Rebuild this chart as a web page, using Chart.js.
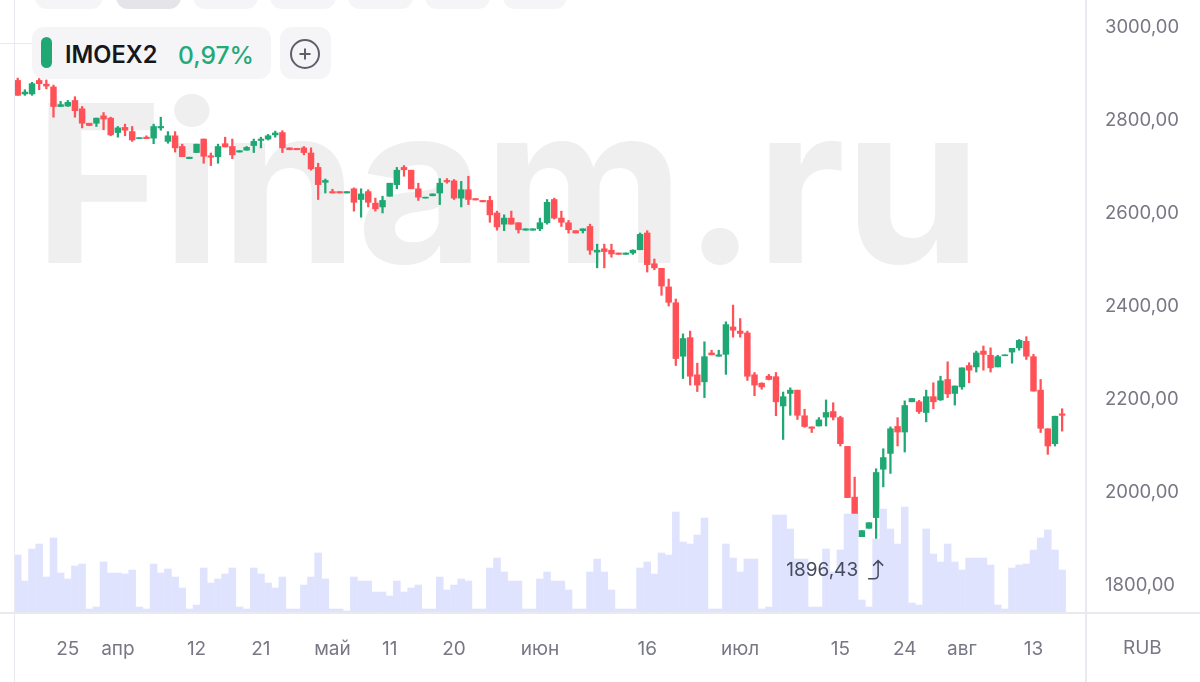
<!DOCTYPE html>
<html>
<head>
<meta charset="utf-8">
<title>IMOEX2</title>
<script src="https://cdn.jsdelivr.net/npm/chart.js@4"></script>
<style>
  html, body { margin: 0; padding: 0; background: #fff; font-family: Inter, sans-serif; }
  #wrap { position: relative; width: 1200px; height: 682px; overflow: hidden; }
  #chart { position: absolute; left: 0; top: 0; z-index: 1; }
  .line { position: absolute; background: #e9e9f0; }
  .tab { position: absolute; top: -20px; height: 29px; border-radius: 12px; background: #f5f5f7; }
  .box { position: absolute; top: 27px; height: 52px; border-radius: 12px; background: #f5f5f7; z-index: 2; }
  .txt { position: absolute; white-space: nowrap; z-index: 3; }
</style>
</head>
<body>
<div id="wrap">
  <div class="line" style="left:14px;top:0;width:1px;height:682px"></div>
  <div class="line" style="left:1085px;top:0;width:2px;height:682px"></div>
  <div class="line" style="left:0;top:612px;width:1200px;height:2px"></div>
  <div class="line" style="left:0;top:43px;width:33px;height:1px"></div>

  <div class="tab" style="left:35px;width:68px"></div>
  <div class="tab" style="left:116px;width:65px;background:#e4e4e9"></div>
  <div class="tab" style="left:193px;width:65px"></div>
  <div class="tab" style="left:270px;width:66px"></div>
  <div class="tab" style="left:348px;width:65px"></div>
  <div class="tab" style="left:425px;width:65px"></div>
  <div class="tab" style="left:503px;width:64px"></div>

  <div class="box" style="left:32px;width:239px"></div>
  <div class="txt" style="left:41px;top:37px;width:11px;height:31px;border-radius:6px;background:#1fa874"></div>
  <div class="txt" style="left:65px;top:41px;font-size:23.6px;line-height:28px;font-weight:600;color:#16161d">IMOEX2</div>
  <div class="txt" style="left:178px;top:41px;font-size:24.6px;line-height:28px;font-weight:500;color:#23a97a">0,97%</div>
  <div class="box" style="left:280px;width:51px"></div>
  <svg class="txt" style="left:289px;top:38px" width="32" height="32">
    <circle cx="16" cy="16" r="14" fill="none" stroke="#5f5f6c" stroke-width="2"/>
    <path d="M16 10.5V21.5M10.5 16H21.5" stroke="#5f5f6c" stroke-width="2" fill="none"/>
  </svg>
  <div class="txt" style="left:1123px;top:637px;font-size:19px;line-height:22px;color:#777785">RUB</div>
  <canvas id="chart" width="1200" height="682"></canvas>
</div>

<script>
// Daily candles, 147 sessions
const opens = [
  2886,2857,2857,2886,2878,2872,2830,2831,2843,2825,
  2794,2794,2810,2805,2774,2785,2776,2761,2764,2762,
  2784,2755,2767,2744,2718,2731,2760,2724,2722,2750,
  2744,2732,2736,2746,2757,2760,2769,2774,2741,2740,
  2741,2730,2699,2667,2647,2647,2644,2653,2630,2647,
  2622,2614,2637,2662,2699,2693,2653,2633,2638,2644,
  2671,2670,2633,2651,2632,2628,2628,2601,2577,2590,
  2580,2564,2564,2567,2580,2630,2590,2580,2563,2563,
  2572,2517,2524,2521,2515,2512,2515,2522,2558,2492,
  2482,2442,2408,2293,2333,2253,2238,2300,2293,2297,
  2356,2347,2343,2253,2235,2250,2249,2186,2213,2220,
  2165,2141,2143,2162,2174,2161,2099,1990,1905,1923,
  1946,2050,2084,2142,2130,2195,2195,2172,2206,2199,
  2243,2213,2227,2273,2270,2304,2295,2270,2294,2302,
  2311,2325,2292,2220,2137,2105,2169
];
const highs = [
  2891,2866,2882,2891,2887,2876,2841,2843,2851,2830,
  2794,2805,2817,2807,2787,2792,2787,2763,2767,2792,
  2807,2776,2776,2749,2721,2749,2760,2730,2749,2764,
  2760,2735,2744,2760,2764,2770,2777,2778,2741,2740,
  2744,2741,2708,2674,2652,2647,2647,2655,2653,2651,
  2633,2637,2665,2699,2703,2693,2665,2635,2642,2675,
  2675,2673,2669,2680,2632,2628,2637,2605,2597,2605,
  2580,2567,2567,2590,2630,2633,2605,2585,2563,2567,
  2577,2534,2534,2534,2515,2515,2522,2558,2563,2502,
  2482,2459,2416,2341,2347,2278,2324,2306,2306,2367,
  2403,2374,2347,2258,2236,2254,2258,2216,2225,2220,
  2179,2141,2161,2199,2193,2164,2099,2033,1918,1935,
  2051,2094,2141,2161,2197,2202,2198,2220,2236,2250,
  2281,2229,2268,2279,2304,2315,2311,2295,2296,2310,
  2329,2335,2297,2243,2137,2164,2180
];
const lows = [
  2854,2854,2854,2866,2868,2807,2830,2830,2807,2784,
  2789,2787,2780,2767,2764,2767,2755,2761,2761,2750,
  2779,2751,2732,2722,2718,2731,2708,2703,2708,2743,
  2718,2732,2736,2731,2741,2758,2764,2731,2737,2737,
  2726,2693,2630,2644,2644,2644,2644,2605,2592,2614,
  2605,2601,2637,2653,2680,2653,2628,2633,2638,2619,
  2665,2630,2614,2619,2629,2625,2581,2564,2563,2577,
  2558,2564,2564,2563,2577,2588,2572,2558,2558,2558,
  2512,2483,2483,2506,2512,2512,2512,2522,2474,2479,
  2424,2401,2273,2245,2231,2217,2204,2296,2293,2254,
  2334,2334,2241,2208,2222,2242,2165,2114,2166,2157,
  2140,2129,2143,2143,2156,2100,1989,1932,1905,1923,
  1896.43,2012,2041,2100,2087,2195,2170,2152,2180,2198,
  2204,2188,2222,2236,2259,2263,2259,2270,2294,2278,
  2306,2286,2218,2129,2082,2100,2132
];
const closes = [
  2854,2861,2879,2879,2874,2830,2834,2839,2821,2794,
  2789,2805,2803,2769,2784,2779,2758,2763,2761,2787,
  2787,2767,2741,2722,2721,2749,2723,2721,2744,2743,
  2726,2735,2742,2755,2760,2767,2773,2741,2737,2737,
  2731,2696,2662,2671,2644,2644,2647,2624,2642,2624,
  2610,2628,2665,2693,2694,2653,2635,2635,2642,2665,
  2668,2633,2651,2630,2629,2625,2597,2571,2590,2577,
  2565,2567,2567,2580,2624,2590,2581,2565,2558,2567,
  2521,2521,2518,2513,2512,2515,2521,2555,2490,2483,
  2444,2409,2288,2331,2250,2231,2292,2296,2296,2361,
  2349,2342,2250,2231,2227,2243,2195,2206,2220,2166,
  2142,2138,2156,2172,2162,2105,1989,1952,1918,1935,
  2043,2075,2137,2130,2187,2202,2174,2206,2195,2240,
  2212,2229,2268,2263,2300,2297,2268,2292,2296,2310,
  2327,2293,2218,2138,2100,2164,2166
];
const volumes = [
  57,31,63,68,35,74,39,33,46,48,
  3,5,50,39,39,38,42,5,3,48,
  39,43,35,24,3,7,44,29,33,38,
  44,5,3,44,38,29,24,35,3,3,
  27,35,59,33,3,3,1,35,31,31,
  20,20,16,31,20,24,27,3,3,35,
  22,27,33,31,3,3,44,54,40,31,
  31,3,3,33,40,31,31,22,3,3,
  40,53,40,22,3,3,3,44,50,38,
  59,57,100,70,68,77,94,3,3,68,
  54,40,53,53,3,5,97,97,83,53,
  53,5,5,63,40,62,98,98,12,5,
  73,103,83,68,105,9,7,83,58,50,
  68,50,42,54,54,54,47,7,3,44,
  47,48,62,74,82,62,42
];

const priceTicks = [1800, 2000, 2200, 2400, 2600, 2800, 3000];
const xTickIndex = [7, 14, 25, 34, 44, 52, 61, 73, 88, 101, 115, 124, 132, 142];
const xTickLabels = ['25', 'апр', '12', '21', 'май', '11', '20', 'июн', '16', 'июл', '15', '24', 'авг', '13'];

const GREEN = '#1fa874';
const RED = '#ff5157';
const AXIS_TEXT = '#777785';

function candleColor(i) {
  return closes[i] >= opens[i] ? GREEN : RED;
}

function formatPrice(v) {
  return v.toFixed(2).replace('.', ',');
}

// Big grey site name behind the candles
const watermark = {
  id: 'watermark',
  beforeDatasetsDraw(chart) {
    const ctx = chart.ctx;
    ctx.save();
    ctx.font = '700 220px Inter';
    ctx.letterSpacing = '-1px';
    ctx.fillStyle = '#efeff0';
    ctx.textAlign = 'left';
    ctx.textBaseline = 'alphabetic';
    ctx.fillText('Finam.ru', 34, 263);
    ctx.restore();
  }
};

// Label under the lowest wick of the period
const lowMark = {
  id: 'lowMark',
  afterDatasetsDraw(chart) {
    const ctx = chart.ctx;
    const low = Math.min(...lows);
    const px = chart.scales.x.getPixelForValue(lows.indexOf(low));
    const py = chart.scales.y.getPixelForValue(low);
    ctx.save();
    ctx.font = '19px Inter';
    ctx.fillStyle = '#454a5c';
    ctx.textAlign = 'right';
    ctx.textBaseline = 'middle';
    ctx.fillText(formatPrice(low), px - 18, py + 30);
    ctx.strokeStyle = '#454a5c';
    ctx.lineWidth = 1.5;
    ctx.beginPath();
    ctx.moveTo(px - 8, py + 38);
    ctx.lineTo(px - 2, py + 38);
    ctx.quadraticCurveTo(px + 2, py + 38, px + 2, py + 34);
    ctx.lineTo(px + 2, py + 20);
    ctx.moveTo(px - 3, py + 25);
    ctx.lineTo(px + 2, py + 20);
    ctx.lineTo(px + 7, py + 25);
    ctx.stroke();
    ctx.restore();
  }
};

new Chart(document.getElementById('chart').getContext('2d'), {
  type: 'bar',
  data: {
    datasets: [
      {
        label: 'Volume',
        yAxisID: 'vol',
        data: volumes.map((v, i) => ({ x: i, y: v })),
        backgroundColor: '#dfe3fe',
        barThickness: 6.9,
        grouped: false
      },
      {
        label: 'Wick',
        yAxisID: 'y',
        data: opens.map((o, i) => ({ x: i, y: [lows[i], highs[i]] })),
        backgroundColor: opens.map((o, i) => candleColor(i)),
        barThickness: 1.6,
        grouped: false
      },
      {
        label: 'Body',
        yAxisID: 'y',
        data: opens.map((o, i) => ({ x: i, y: [Math.min(o, closes[i]), Math.max(o, closes[i])] })),
        backgroundColor: opens.map((o, i) => candleColor(i)),
        barThickness: 5.8,
        grouped: false
      }
    ]
  },
  options: {
    responsive: false,
    animation: false,
    devicePixelRatio: 1,
    layout: { autoPadding: false, padding: { left: 15, top: 0, right: 0, bottom: 0 } },
    plugins: { legend: { display: false }, tooltip: { enabled: false } },
    scales: {
      x: {
        type: 'linear',
        offset: false,
        min: -0.38,
        max: 149.2,
        grid: { display: false },
        border: { display: false },
        afterBuildTicks: axis => { axis.ticks = xTickIndex.map(v => ({ value: v })); },
        afterFit: axis => { axis.height = 70; axis.paddingLeft = 0; axis.paddingRight = 0; },
        ticks: {
          callback: v => xTickLabels[xTickIndex.indexOf(v)],
          autoSkip: false,
          maxRotation: 0,
          padding: 18,
          color: AXIS_TEXT,
          font: { family: 'Inter', size: 19 }
        }
      },
      y: {
        position: 'right',
        min: 1743,
        max: 3059,
        grid: { display: false, drawTicks: false },
        border: { display: false },
        afterBuildTicks: axis => { axis.ticks = priceTicks.map(v => ({ value: v })); },
        afterFit: axis => { axis.width = 115; axis.paddingTop = 0; axis.paddingBottom = 0; },
        ticks: {
          callback: v => formatPrice(v),
          padding: 20,
          color: AXIS_TEXT,
          font: { family: 'Inter', size: 18.5 }
        }
      },
      vol: {
        display: false,
        min: 0,
        max: 612,
        afterFit: axis => { axis.paddingTop = 0; axis.paddingBottom = 0; }
      }
    }
  },
  plugins: [watermark, lowMark]
});
</script>
</body>
</html>
